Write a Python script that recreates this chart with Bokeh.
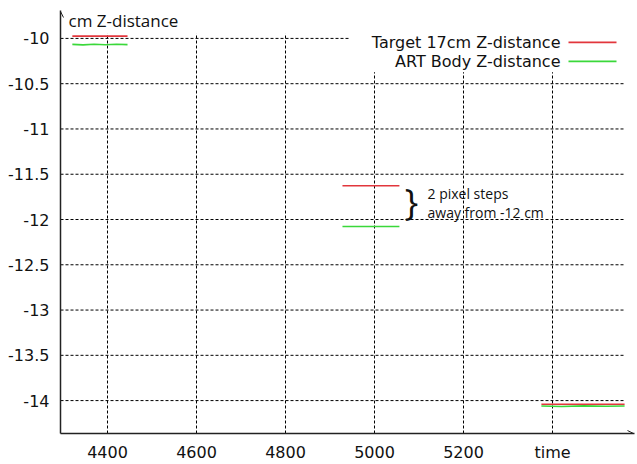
import math
from bokeh.plotting import figure
from bokeh.models import Range1d, FixedTicker, Arrow, OpenHead
from bokeh.core.properties import value
from bokeh.embed import file_html
from bokeh.resources import INLINE

nan = float("nan")

# ---- data ----
target_x = [4321, 4445, nan, 4928, 5056, nan, 5375, 5562]
target_y = [-9.975, -9.975, nan, -11.627, -11.627, nan, -14.04, -14.04]
art_x = [4321, 4345, 4370, 4395, 4420, 4445, nan, 4928, 5056, nan, 5375, 5420, 5470, 5520, 5562]
art_y = [-10.066, -10.071, -10.064, -10.070, -10.065, -10.068, nan, -12.078, -12.078, nan,
         -14.060, -14.066, -14.058, -14.063, -14.060]
x_ticks = [4400, 4600, 4800, 5000, 5200, 5400]
x_labels = ["4400", "4600", "4800", "5000", "5200", "time"]
y_ticks = [-14.0, -13.5, -13.0, -12.5, -12.0, -11.5, -11.0, -10.5, -10.0]
y_labels = ["-14", "-13.5", "-13", "-12.5", "-12", "-11.5", "-11", "-10.5", "-10"]
series_names = ["Target 17cm Z-distance", "ART Body Z-distance"]
series_colors = ["#e2363c", "#3ad83a"]

# ---- ranges / frame geometry (canvas pixels) ----
FL, FR, FT, FB = 60, 634, 10, 434
X0 = 4400 - (107 - FL) * 200 / 89
X1 = 4400 + (FR - 107) * 200 / 89
YT = -10 + (38 - FT) * 0.5 / 45.4
YB = -14 - (FB - 401) * 0.5 / 45.4


def px(xp):
    return X0 + (xp - FL) * (X1 - X0) / (FR - FL)


def py(yp):
    return YT - (yp - FT) * (YT - YB) / (FB - FT)


p = figure(width=637, height=464, output_backend="svg", toolbar_location=None,
           x_range=Range1d(X0, X1), y_range=Range1d(YB, YT),
           min_border_left=FL, min_border_right=637 - FR, min_border_top=FT,
           min_border_bottom=464 - FB)
p.outline_line_color = None
p.xgrid.visible = False
p.ygrid.visible = False

for ax in (p.xaxis[0], p.yaxis[0]):
    ax.major_tick_line_color = None
    ax.minor_tick_line_color = None
    ax.axis_line_color = "#222222"
    ax.axis_line_width = 1.5
    ax.major_label_text_font = "DejaVu Sans"
    ax.major_label_text_font_size = "16px"
    ax.major_label_text_color = "#111111"

p.xaxis.ticker = FixedTicker(ticks=x_ticks)
p.xaxis.major_label_overrides = {t: l for t, l in zip(x_ticks, x_labels)}
p.xaxis.major_label_standoff = 3
p.yaxis.ticker = FixedTicker(ticks=y_ticks)
p.yaxis.major_label_overrides = {t: l for t, l in zip(y_ticks, y_labels)}
p.yaxis.major_label_standoff = 5

# grid lines (dashed)
hg = p.segment(x0=[X0] * len(y_ticks), x1=[px(625)] * len(y_ticks), y0=y_ticks, y1=y_ticks,
               line_color="black", line_width=1, line_dash="3 2")
vg = p.segment(x0=x_ticks, x1=x_ticks, y0=[YB] * len(x_ticks), y1=[py(33)] * len(x_ticks),
               line_color="black", line_width=1, line_dash="3 2")
hg.level = "underlay"
vg.level = "underlay"

# legend background
p.quad(left=[px(349)], right=[X1], top=[YT], bottom=[py(72)],
       fill_color="white", line_color=None)

# data
p.line(target_x, target_y, line_color=series_colors[0], line_width=1.6)
p.line(art_x, art_y, line_color=series_colors[1], line_width=1.6)

# legend
p.segment(x0=[px(568)] * 2, x1=[px(616)] * 2, y0=[py(42), py(61)], y1=[py(42), py(61)],
          line_color=series_colors, line_width=1.6)
p.text(x=[px(560)] * 2, y=[py(42), py(61)], text=series_names,
       text_align="right", text_baseline="middle",
       text_font=value("DejaVu Sans"), text_font_size="16px", text_color="#111111")

# y axis title
p.text(x=[px(68)], y=[py(20)], text=["cm Z-distance"], text_align="left",
       text_baseline="middle", text_font=value("Open Sans"), text_font_size="17px",
       text_color="#111111")

# annotation
p.text(x=[px(411)], y=[py(201)], text=["}"], text_align="center",
       text_baseline="middle", text_font=value("Open Sans"), text_font_size="36px",
       text_color="#111111")
p.text(x=[px(427)] * 2, y=[py(193), py(212)], text=["2 pixel steps", "away from -12 cm"],
       text_align="left", text_baseline="middle", text_font=value("Open Sans"),
       text_font_size="14px", text_color="#111111")

# axis arrows
p.add_layout(Arrow(x_start=X0, y_start=py(26), x_end=X0, y_end=py(11),
                   line_color="#222222", line_width=1,
                   end=OpenHead(size=6, line_width=1, line_color="#222222")))
p.add_layout(Arrow(x_start=px(620), y_start=YB, x_end=px(633), y_end=YB,
                   line_color="#222222", line_width=1,
                   end=OpenHead(size=6, line_width=1, line_color="#222222")))

open("out.html", "w").write(file_html(p, INLINE))
